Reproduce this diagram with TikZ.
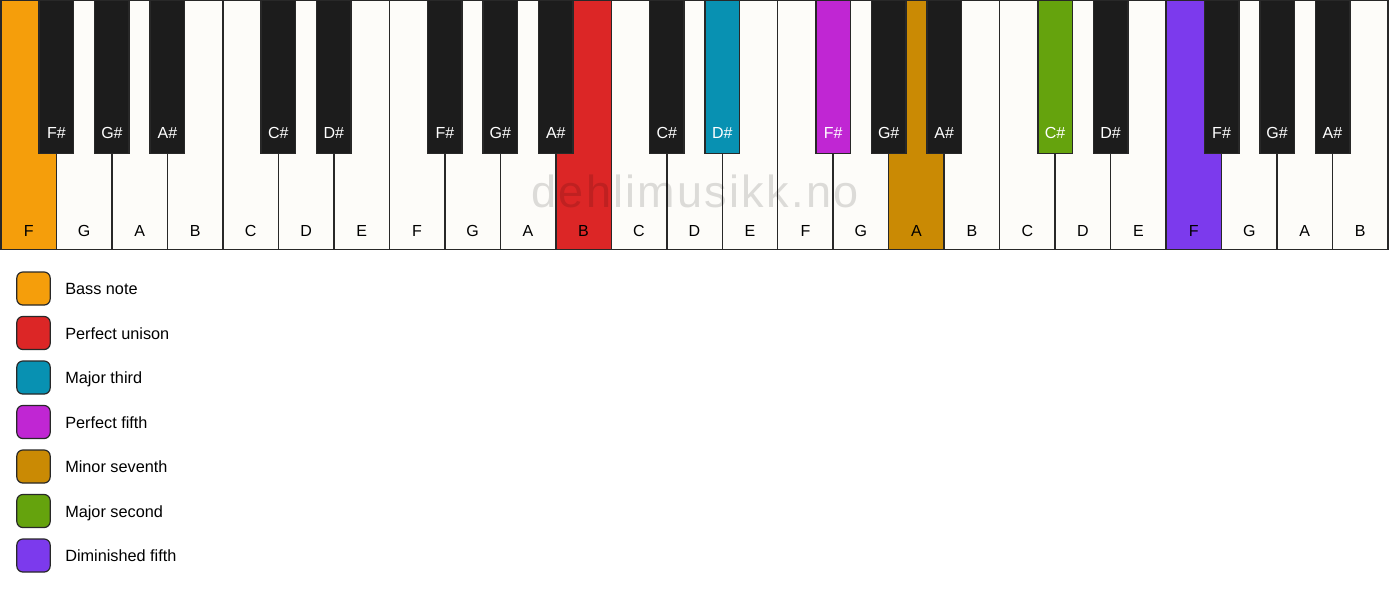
\documentclass[tikz,border=0pt]{standalone}
\usepackage{fontspec}
\setmainfont{Liberation Sans}
\definecolor{keywhite}{RGB}{253,252,249}
\definecolor{keyblack}{RGB}{28,28,28}
\definecolor{keyborder}{RGB}{40,40,40}
\definecolor{cbass}{HTML}{F59E0B}
\definecolor{cunison}{HTML}{DC2626}
\definecolor{cthird}{HTML}{0891B2}
\definecolor{cfifth}{HTML}{C026D3}
\definecolor{cseventh}{HTML}{CA8A04}
\definecolor{csecond}{HTML}{65A30D}
\definecolor{cdim}{HTML}{7C3AED}
\begin{document}
\begin{tikzpicture}[x=0.75pt,y=-0.75pt,
  keyline/.style={draw=keyborder, line width=1.1pt},
  whitekey/.style={keyline, rectangle, anchor=north west, inner sep=0pt, outer sep=0pt,
    minimum width=41.61pt, minimum height=186.4pt},
  blackkey/.style={keyline, rectangle, anchor=north, inner sep=0pt, outer sep=0pt,
    minimum width=25.9pt, minimum height=114.5pt},
  wlabel/.style={font=\fontsize{12}{14}\selectfont, text=black, inner sep=0pt, anchor=base},
  blabel/.style={font=\fontsize{12}{14}\selectfont, text=white, inner sep=0pt, anchor=base},
  swatch/.style={draw=keyborder, line width=0.9pt, rounded corners=4.5pt, rectangle,
    minimum width=25pt, minimum height=24.75pt, inner sep=0pt},
  legtext/.style={font=\fontsize{12.2}{14}\selectfont, anchor=base west, inner sep=0pt},
  watermark/.style={font=\fontsize{33.75}{36}\selectfont\addfontfeature{LetterSpace=5}, text=black, opacity=0.13, inner sep=0pt, anchor=base}
]
\useasboundingbox (0,0) rectangle (1389,594);
\fill[white] (0,0) rectangle (1389,594);
% white keys
\foreach \n/\c [count=\i from 0] in {F/cbass,G/keywhite,A/keywhite,B/keywhite,C/keywhite,D/keywhite,E/keywhite,
  F/keywhite,G/keywhite,A/keywhite,B/cunison,C/keywhite,D/keywhite,E/keywhite,
  F/keywhite,G/keywhite,A/cseventh,B/keywhite,C/keywhite,D/keywhite,E/keywhite,
  F/cdim,G/keywhite,A/keywhite,B/keywhite} {
  \node[whitekey, fill=\c] (w\i) at ({1+\i*55.48},0.7) {};
  \node[wlabel] (wl\i) at ({1+(\i+0.5)*55.48},236) {\n};
}
% watermark
\node[watermark] (wm) at (695,207) {dehlimusikk.no};
% black keys
\foreach \i/\n/\c in {0/F/keyblack,1/G/keyblack,2/A/keyblack,4/C/keyblack,5/D/keyblack,
  7/F/keyblack,8/G/keyblack,9/A/keyblack,11/C/keyblack,12/D/cthird,
  14/F/cfifth,15/G/keyblack,16/A/keyblack,18/C/csecond,19/D/keyblack,
  21/F/keyblack,22/G/keyblack,23/A/keyblack} {
  \node[blackkey, fill=\c] (b\i) at ({1+(\i+1)*55.48},0.7) {};
  \node[blabel] (bl\i) at ({1+(\i+1)*55.48},138.5) {\n\#};
}
% legend
\foreach \c/\t [count=\k from 0] in {cbass/Bass note,cunison/Perfect unison,cthird/Major third,
  cfifth/Perfect fifth,cseventh/Minor seventh,csecond/Major second,cdim/Diminished fifth} {
  \node[swatch, fill=\c] (s\k) at (33.5,{288.5+\k*44.5}) {};
  \node[legtext] (t\k) at (65,{294.5+\k*44.5}) {\t};
}
\end{tikzpicture}
\end{document}
